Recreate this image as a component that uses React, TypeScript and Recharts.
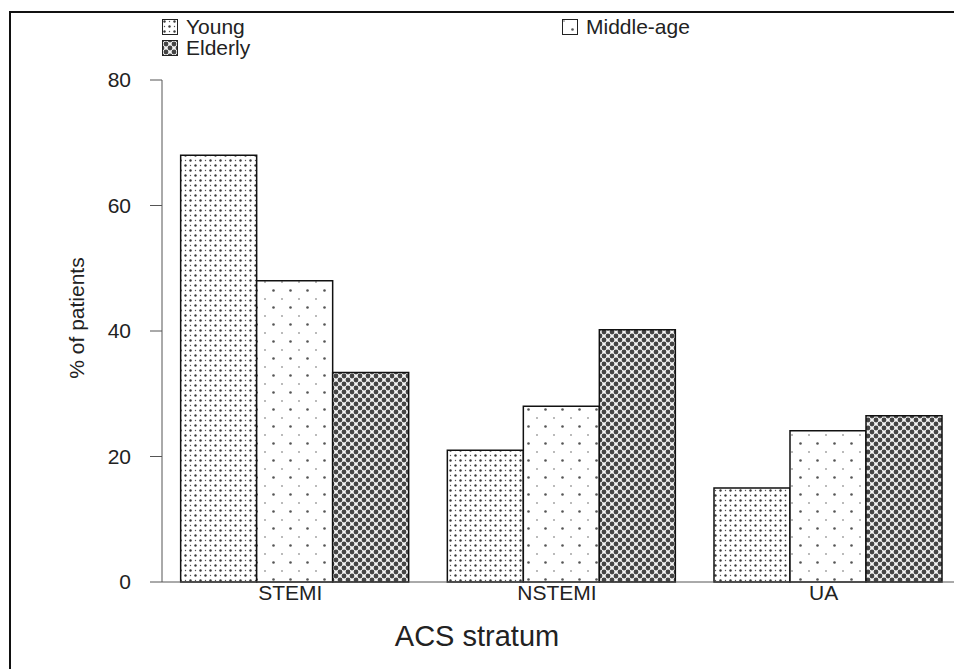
import { BarChart, Bar, XAxis, YAxis } from "recharts";

// values (% of patients)
const categories = ["STEMI", "NSTEMI", "UA"];
const young = [68, 21, 15];
const middleAge = [48, 28, 24.1];
const elderly = [33.4, 40.2, 26.5];
const yTicks = [0, 20, 40, 60, 80];

const seriesNames = ["Young", "Middle-age", "Elderly"];
const seriesFills = ["url(#pYoung)", "url(#pMiddle)", "url(#pElderly)"];

const data = categories.map((c, i) => ({
  name: c,
  young: young[i],
  middle: middleAge[i],
  elderly: elderly[i],
}));

const FONT = "'Liberation Sans', Arial, Helvetica, sans-serif";
const TEXT = "#222";

function Swatch({ fill }: { fill: string }) {
  return (
    <svg width={16} height={16} style={{ display: "block" }}>
      <rect x={0.5} y={0.5} width={15} height={15} fill={fill} stroke="#222" strokeWidth={1} />
    </svg>
  );
}

// legend laid out as in the original: two columns, Elderly on second row
function LegendBox() {
  const spots = [
    { left: 154, top: 8 },
    { left: 554, top: 8 },
    { left: 154, top: 29 },
  ];
  return (
    <>
      {seriesNames.map((n, i) => (
        <div key={n} style={{ position: "absolute", left: spots[i].left, top: spots[i].top, display: "flex", alignItems: "center", gap: 8, fontSize: 21, lineHeight: "22px", color: TEXT, fontFamily: FONT }}>
          <Swatch fill={seriesFills[i]} />
          <span>{n}</span>
        </div>
      ))}
    </>
  );
}

export default function App() {
  return (
    <div style={{ position: "relative", width: 954, height: 661, overflow: "hidden", fontFamily: FONT }}>
      {/* figure frame, right and bottom edges fall outside the picture */}
      <div style={{ position: "absolute", left: 1, top: 3, width: 2000, height: 2000, borderTop: "2px solid #111", borderLeft: "2px solid #111" }} />
      <BarChart
        width={954}
        height={661}
        data={data}
        margin={{ top: 72, right: 0, bottom: 57, left: 0 }}
        barCategoryGap="7%"
        barGap={0}
      >
        <defs>
          <pattern id="pYoung" width={10} height={10} patternUnits="userSpaceOnUse">
            <rect width={10} height={10} fill="#fff" />
            <circle cx={2.5} cy={2.5} r={1.2} fill="#3a3a3a" />
            <circle cx={7.5} cy={7.5} r={1.2} fill="#3a3a3a" />
            <circle cx={7.5} cy={2.5} r={0.7} fill="#555" />
            <circle cx={2.5} cy={7.5} r={0.7} fill="#555" />
          </pattern>
          <pattern id="pMiddle" width={17} height={17} patternUnits="userSpaceOnUse">
            <rect width={17} height={17} fill="#fff" />
            <circle cx={2} cy={2} r={0.7} fill="#444" />
            <circle cx={10.5} cy={10.5} r={1.3} fill="#555" />
          </pattern>
          <pattern id="pElderly" width={8} height={8} patternUnits="userSpaceOnUse">
            <rect width={8} height={8} fill="#f4f4f4" />
            <circle cx={0} cy={0} r={2.4} fill="#444" />
            <circle cx={8} cy={0} r={2.4} fill="#444" />
            <circle cx={0} cy={8} r={2.4} fill="#444" />
            <circle cx={8} cy={8} r={2.4} fill="#444" />
            <circle cx={4} cy={4} r={2.4} fill="#444" />
          </pattern>
        </defs>
        <XAxis
          dataKey="name"
          height={30}
          stroke="#555"
          tickLine={false}
          tickSize={0}
          tickMargin={3}
          tick={{ fontSize: 21, fill: TEXT, fontFamily: FONT, dx: -5 }}
        />
        <YAxis
          width={154}
          domain={[0, 80]}
          ticks={yTicks}
          stroke="#555"
          tickSize={12}
          tickMargin={19}
          tick={{ fontSize: 21, fill: TEXT, fontFamily: FONT }}
        />
        <Bar dataKey="young" name="Young" fill="url(#pYoung)" stroke="#111" strokeWidth={1.5} isAnimationActive={false} />
        <Bar dataKey="middle" name="Middle-age" fill="url(#pMiddle)" stroke="#111" strokeWidth={1.5} isAnimationActive={false} />
        <Bar dataKey="elderly" name="Elderly" fill="url(#pElderly)" stroke="#111" strokeWidth={1.5} isAnimationActive={false} />
      </BarChart>
      <LegendBox />
      <div style={{ position: "absolute", left: 469, top: 612, transform: "translateX(-50%)", fontSize: 29, color: TEXT, whiteSpace: "nowrap", lineHeight: "33px" }}>
        ACS stratum
      </div>
      <div style={{ position: "absolute", left: 69, top: 310, transform: "translate(-50%, -50%) rotate(-90deg)", fontSize: 21, color: TEXT, whiteSpace: "nowrap", lineHeight: "24px" }}>
        % of patients
      </div>
    </div>
  );
}
